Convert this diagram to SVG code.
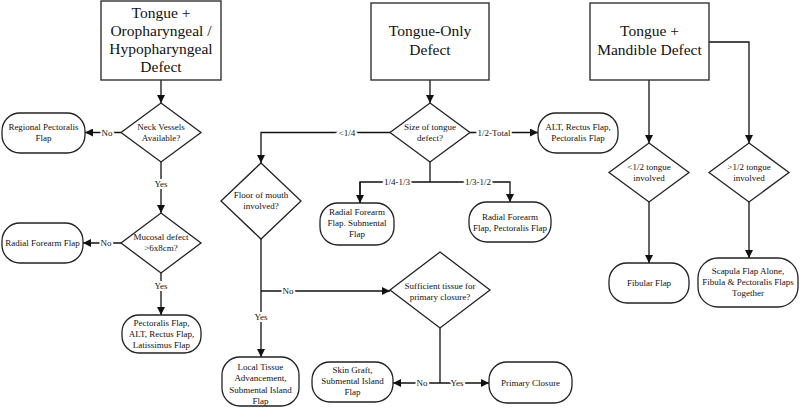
<svg xmlns="http://www.w3.org/2000/svg" width="800" height="408" viewBox="0 0 800 408">
<style>
.bg{fill:#fff}
.hd{fill:#fff;stroke:#333;stroke-width:1.4}
.dm{fill:#fff;stroke:#222;stroke-width:1.3}
.rb{fill:#fff;stroke:#222;stroke-width:1.3}
.ht{font-family:"Liberation Serif","Times New Roman",serif;font-size:15.5px;fill:#111;text-anchor:middle}
.t{font-family:"Liberation Serif","Times New Roman",serif;font-size:9px;fill:#111;text-anchor:middle}
.lb{font-family:"Liberation Serif","Times New Roman",serif;font-size:9px;fill:#111;text-anchor:middle;dominant-baseline:central;stroke:#fff;stroke-width:4;paint-order:stroke}
.c{fill:none;stroke:#111;stroke-width:1.3}
</style>
<defs>
<marker id="ah" viewBox="0 0 10 10" refX="10" refY="5" markerWidth="8" markerHeight="8" markerUnits="userSpaceOnUse" orient="auto">
<path d="M0,0 L10,5 L0,10 z" fill="#111"/>
</marker>
</defs>
<rect class="bg" x="0" y="0" width="800" height="408"/>

<g id="connectors">
<path class="c" d="M161,80 V103" marker-end="url(#ah)"/>
<path class="c" d="M121,132.5 H85" marker-end="url(#ah)"/>
<path class="c" d="M161,162 V213" marker-end="url(#ah)"/>
<path class="c" d="M121,243 H83" marker-end="url(#ah)"/>
<path class="c" d="M161,273 V315" marker-end="url(#ah)"/>
<path class="c" d="M430,80 V103" marker-end="url(#ah)"/>
<path class="c" d="M390,132.5 H261 V163" marker-end="url(#ah)"/>
<path class="c" d="M470,132.5 H538" marker-end="url(#ah)"/>
<path class="c" d="M430,162 V182"/>
<path class="c" d="M360,203 V182 H510 V202" marker-end="url(#ah)"/>
<path class="c" d="M360,182 V203" marker-end="url(#ah)"/>
<path class="c" d="M261,239 V357" marker-end="url(#ah)"/>
<path class="c" d="M261,291 H390" marker-end="url(#ah)"/>
<path class="c" d="M440,328 V383"/>
<path class="c" d="M440,383 H393" marker-end="url(#ah)"/>
<path class="c" d="M440,383 H489" marker-end="url(#ah)"/>
<path class="c" d="M649,80 V143" marker-end="url(#ah)"/>
<path class="c" d="M709,42 H749 V143" marker-end="url(#ah)"/>
<path class="c" d="M649,202 V263" marker-end="url(#ah)"/>
<path class="c" d="M749,202 V258" marker-end="url(#ah)"/>
<text class="lb" x="107" y="132.5">No</text>
<text class="lb" x="161" y="184">Yes</text>
<text class="lb" x="106" y="243">No</text>
<text class="lb" x="161" y="286">Yes</text>
<text class="lb" x="347" y="132.5">&lt;1/4</text>
<text class="lb" x="494" y="132.5">1/2-Total</text>
<text class="lb" x="397" y="182">1/4-1/3</text>
<text class="lb" x="478" y="182">1/3-1/2</text>
<text class="lb" x="261" y="317">Yes</text>
<text class="lb" x="288" y="291">No</text>
<text class="lb" x="422" y="383">No</text>
<text class="lb" x="457" y="383">Yes</text>
</g>

<g id="n-oro">
<rect class="hd" x="101" y="1" width="120" height="79"/>
<text class="ht" x="161" y="18">Tongue +</text>
<text class="ht" x="161" y="36">Oropharyngeal /</text>
<text class="ht" x="161" y="54">Hypopharyngeal</text>
<text class="ht" x="161" y="72">Defect</text>
</g>
<g id="n-neck">
<polygon class="dm" points="161,103 201,132.5 161,162 121,132.5"/>
<text class="t" x="161" y="130">Neck Vessels</text>
<text class="t" x="161" y="141">Available?</text>
</g>
<g id="n-regional">
<rect class="rb" x="2" y="113" width="83" height="40" rx="18"/>
<text class="t" x="43.5" y="130">Regional Pectoralis</text>
<text class="t" x="43.5" y="141">Flap</text>
</g>
<g id="n-mucosal">
<polygon class="dm" points="161,213 201,243 161,273 121,243"/>
<text class="t" x="161" y="240">Mucosal defect</text>
<text class="t" x="161" y="251">&gt;6x8cm?</text>
</g>
<g id="n-radial1">
<rect class="rb" x="2" y="223" width="81" height="40" rx="18"/>
<text class="t" x="42.5" y="246">Radial Forearm Flap</text>
</g>
<g id="n-pect">
<rect class="rb" x="122" y="315" width="79" height="38" rx="17"/>
<text class="t" x="161.5" y="326">Pectoralis Flap,</text>
<text class="t" x="161.5" y="337">ALT, Rectus Flap,</text>
<text class="t" x="161.5" y="348">Latissimus Flap</text>
</g>

<g id="n-tongue">
<rect class="hd" x="371" y="3" width="118" height="77"/>
<text class="ht" x="430" y="36">Tongue-Only</text>
<text class="ht" x="430" y="55">Defect</text>
</g>
<g id="n-size">
<polygon class="dm" points="430,103 470,132.5 430,162 390,132.5"/>
<text class="t" x="430" y="130">Size of tongue</text>
<text class="t" x="430" y="141">defect?</text>
</g>
<g id="n-alt">
<rect class="rb" x="538" y="113" width="80" height="40" rx="18"/>
<text class="t" x="578" y="130">ALT, Rectus Flap,</text>
<text class="t" x="578" y="141">Pectoralis Flap</text>
</g>
<g id="n-rfsub">
<rect class="rb" x="320" y="203" width="74" height="42" rx="18"/>
<text class="t" x="357" y="215">Radial Forearm</text>
<text class="t" x="357" y="226">Flap. Submental</text>
<text class="t" x="357" y="237">Flap</text>
</g>
<g id="n-rfpect">
<rect class="rb" x="469" y="202" width="82" height="40" rx="18"/>
<text class="t" x="510" y="220">Radial Forearm</text>
<text class="t" x="510" y="231">Flap, Pectoralis Flap</text>
</g>
<g id="n-floor">
<polygon class="dm" points="261,163 301,201 261,239 221,201"/>
<text class="t" x="261" y="198">Floor of mouth</text>
<text class="t" x="261" y="209">involved?</text>
</g>
<g id="n-suff">
<polygon class="dm" points="440,252 490,290 440,328 390,290"/>
<text class="t" x="440" y="289">Sufficient tissue for</text>
<text class="t" x="440" y="300">primary closure?</text>
</g>
<g id="n-local">
<rect class="rb" x="222" y="357" width="77" height="49" rx="18"/>
<text class="t" x="260.5" y="370">Local Tissue</text>
<text class="t" x="260.5" y="381">Advancement,</text>
<text class="t" x="260.5" y="393">Submental Island</text>
<text class="t" x="260.5" y="404">Flap</text>
</g>
<g id="n-skin">
<rect class="rb" x="312" y="362" width="81" height="40" rx="18"/>
<text class="t" x="352.5" y="373">Skin Graft,</text>
<text class="t" x="352.5" y="384">Submental Island</text>
<text class="t" x="352.5" y="395">Flap</text>
</g>
<g id="n-primary">
<rect class="rb" x="489" y="362" width="83" height="41" rx="18"/>
<text class="t" x="530.5" y="386">Primary Closure</text>
</g>

<g id="n-mand">
<rect class="hd" x="590" y="3" width="119" height="77"/>
<text class="ht" x="649.5" y="36">Tongue +</text>
<text class="ht" x="649.5" y="55">Mandible Defect</text>
</g>
<g id="n-lt">
<polygon class="dm" points="649,143 689,172.5 649,202 609,172.5"/>
<text class="t" x="649" y="170">&lt;1/2 tongue</text>
<text class="t" x="649" y="181">involved</text>
</g>
<g id="n-gt">
<polygon class="dm" points="749,143 789,172.5 749,202 709,172.5"/>
<text class="t" x="749" y="170">&gt;1/2 tongue</text>
<text class="t" x="749" y="181">involved</text>
</g>
<g id="n-fib">
<rect class="rb" x="609" y="263" width="80" height="40" rx="18"/>
<text class="t" x="649" y="286">Fibular Flap</text>
</g>
<g id="n-scap">
<rect class="rb" x="698" y="258" width="100" height="49" rx="20"/>
<text class="t" x="748" y="274">Scapula Flap Alone,</text>
<text class="t" x="748" y="285">Fibula &amp; Pectoralis Flaps</text>
<text class="t" x="748" y="296">Together</text>
</g>
</svg>
